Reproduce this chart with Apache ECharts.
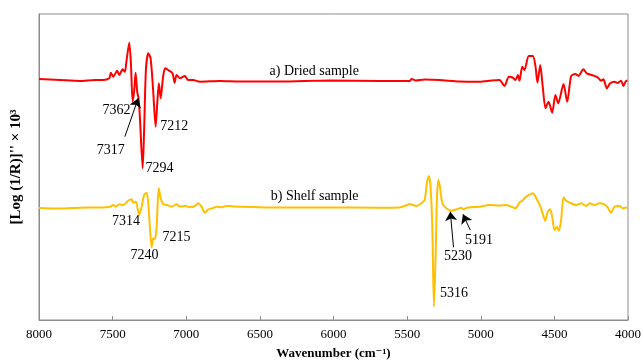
<!DOCTYPE html>
<html>
<head>
<meta charset="utf-8">
<script src="https://cdn.jsdelivr.net/npm/echarts@6/dist/echarts.min.js"></script>
<style>
  html, body { margin: 0; padding: 0; background: #fff; }
  #chart { width: 643px; height: 361px; }
</style>
</head>
<body>
<div id="chart"></div>
<script>
// wavenumber (cm-1) and second derivative values
const driedWn = [8000, 7858, 7722, 7620, 7566, 7523, 7512, 7496, 7469, 7455, 7432, 7417, 7405, 7387, 7376, 7364, 7353, 7344, 7333, 7324, 7315, 7296, 7286, 7274, 7258, 7242, 7225, 7208, 7197, 7186, 7174, 7157, 7143, 7116, 7093, 7079, 7066, 7043, 7010, 6987, 6953, 6908, 6772, 6636, 6365, 6026, 5687, 5483, 5469, 5442, 5381, 5279, 5144, 5008, 4927, 4873, 4839, 4809, 4784, 4764, 4748, 4737, 4718, 4703, 4674, 4646, 4628, 4615, 4596, 4579, 4560, 4540, 4515, 4493, 4474, 4438, 4413, 4386, 4357, 4337, 4303, 4280, 4240, 4206, 4183, 4167, 4144, 4121, 4092, 4072, 4047, 4031, 4013, 4004];
const driedVal = [1, 0, -1, 0, 0, 1.7, 7.3, 3.3, 9.3, 5, 10.7, 8.3, 20, 37.3, 17, -21.7, -10, 7.3, -11.7, -18.3, -36.7, -88.3, -50, 10, 26.7, 21.7, -10, -46.7, -23.3, -3.3, -18.3, 3.3, 11.7, 9.3, 6.7, -2.7, 5, 1.7, 4, 0, 0, -1.7, -1, -1.5, -1.5, -0.5, -1, -1, 1, -0.5, 0.5, 0, -1.5, -1.7, -0.5, 0, -6, 3.3, 2.5, 0, 5, -0.7, 13.3, 10, 24, 24, 13.3, -2.7, 15, -6.7, -28.3, -21.7, -32.7, -15, -23.3, -4, -21.7, 4, 6, 4, 10.7, 6.7, 4.7, 2.7, -0.7, 0.7, -8.3, -3.3, -1.7, -3, -0.7, -6, -0.7, -1];

const shelfWn = [8000, 7858, 7722, 7586, 7518, 7496, 7478, 7455, 7428, 7394, 7371, 7360, 7342, 7320, 7303, 7286, 7269, 7258, 7247, 7235, 7225, 7213, 7201, 7193, 7186, 7174, 7157, 7130, 7100, 7066, 7043, 7003, 6976, 6942, 6919, 6896, 6874, 6851, 6822, 6794, 6761, 6727, 6636, 6433, 6094, 5687, 5551, 5505, 5483, 5438, 5404, 5381, 5366, 5352, 5341, 5329, 5318, 5307, 5298, 5288, 5277, 5261, 5234, 5200, 5162, 5132, 5117, 5094, 5008, 4940, 4873, 4827, 4793, 4764, 4737, 4714, 4691, 4646, 4623, 4590, 4562, 4545, 4528, 4515, 4499, 4484, 4470, 4454, 4438, 4420, 4386, 4352, 4318, 4284, 4262, 4228, 4194, 4160, 4138, 4115, 4092, 4058, 4036, 4004];
const shelfVal = [0, -0.5, 0.3, 0.5, 1.3, 3, 1.3, 3.7, 3, 7.3, 8.7, 5.3, 6.3, -7, 1.3, 13, 15.3, 4.7, -18.7, -39.3, -30.3, -31.3, -18.7, 8, 19.7, 9.7, 4, 3, 1.3, 3.7, 1.3, 2, 0.7, 2, 4.7, 1.3, -4.7, -1.3, -0.3, 1.3, 0.7, 2, 1.3, 0.5, 0.5, 0.3, 0.5, 2.7, 4, 2, 4.7, 8, 24.7, 32, 21.3, -18.7, -98.7, -52, 8, 28, 21.3, 4.7, -0.3, -2.7, -1.3, 0.3, -1.3, 0.3, 1.3, 3, 2.5, 3, 1.3, -0.3, 5.3, 8, 11.3, 14.7, 9.7, -0.3, -12.7, -3.7, -1.3, -8.7, -22, -18.7, -22.7, -12, 10.7, 7.3, 4.7, 3, 4.7, 2, 4.7, 3, 4.7, 3.7, 0.7, -4.7, 1.3, 2, -0.3, 0.7];

const driedOffset = 240;
const shelfOffset = 112;

const xTicks = [8000, 7500, 7000, 6500, 6000, 5500, 5000, 4500, 4000];

// annotation texts, placed at [wavenumber, plot level]
const driedLabels = [
  ['a) Dried sample', 6131, 248.5],
  ['7362', 7474, 209.3],
  ['7317', 7512, 170],
  ['7294', 7182, 151.7],
  ['7212', 7081, 194]
];
const shelfLabels = [
  ['b) Shelf sample', 6128, 124],
  ['7314', 7410, 98.3],
  ['7240', 7284, 65],
  ['7215', 7067, 82.7],
  ['5316', 5181, 26.7],
  ['5230', 5154, 63.3],
  ['5191', 5012, 79.3]
];
// arrows: [fromWn, fromLevel, toWn, toLevel]
const driedArrows = [[7417, 183.3, 7326, 221.7]];
const shelfArrows = [[5185, 72.7, 5207, 108.3], [5071, 90, 5121, 105.7]];

const serif = '"Liberation Serif", "DejaVu Serif", serif';

function pairs(wn, val, off) {
  return wn.map((w, i) => [w, val[i] + off]);
}
function textMarks(list) {
  return {
    silent: true,
    animation: false,
    symbol: 'circle',
    symbolSize: 0,
    label: { show: true, position: 'inside', color: '#000', fontFamily: serif, fontSize: 14 },
    data: list.map(d => ({ coord: [d[1], d[2]], label: { formatter: d[0] } }))
  };
}
function arrowMarks(list) {
  return {
    silent: true,
    animation: false,
    symbol: ['none', 'arrow'],
    symbolSize: 9,
    label: { show: false },
    lineStyle: { color: '#000', width: 1, type: 'solid' },
    data: list.map(a => [{ coord: [a[0], a[1]] }, { coord: [a[2], a[3]] }])
  };
}

const chart = echarts.init(document.getElementById('chart'));
chart.setOption({
  animation: false,
  backgroundColor: '#fff',
  grid: {
    left: 39, right: 15, top: 14, bottom: 41,
    outerBoundsMode: 'none',
    show: true, borderColor: '#8c8c8c', borderWidth: 1
  },
  xAxis: {
    type: 'value',
    inverse: true,
    min: 4000,
    max: 8000,
    interval: 500,
    name: 'Wavenumber (cm\u207B\u00B9)',
    nameLocation: 'middle',
    nameGap: 27,
    nameTextStyle: { fontFamily: serif, fontSize: 13, fontWeight: 'bold', color: '#000' },
    axisLine: { lineStyle: { color: '#8c8c8c' } },
    axisTick: { inside: true, length: 4, lineStyle: { color: '#8c8c8c' } },
    axisLabel: {
      color: '#000', fontFamily: serif, fontSize: 13, margin: 8,
      formatter: v => (xTicks.indexOf(v) >= 0 ? String(v) : '')
    },
    splitLine: { show: false }
  },
  yAxis: {
    type: 'value',
    min: 0,
    max: 306,
    name: "[Log (1/R)]'' \u00D7 10\u00B3",
    nameLocation: 'middle',
    nameRotate: 90,
    nameGap: 15,
    nameTextStyle: { fontFamily: serif, fontSize: 15, fontWeight: 'bold', color: '#000' },
    axisLine: { show: true, lineStyle: { color: '#8c8c8c' } },
    axisTick: { show: false },
    axisLabel: { show: false },
    splitLine: { show: false }
  },
  series: [
    {
      name: 'Dried sample',
      type: 'line',
      data: pairs(driedWn, driedVal, driedOffset),
      showSymbol: false,
      smooth: 0.25,
      lineStyle: { color: '#ff0000', width: 2 },
      itemStyle: { color: '#ff0000' },
      markPoint: textMarks(driedLabels),
      markLine: arrowMarks(driedArrows)
    },
    {
      name: 'Shelf sample',
      type: 'line',
      data: pairs(shelfWn, shelfVal, shelfOffset),
      showSymbol: false,
      smooth: 0.25,
      lineStyle: { color: '#ffc000', width: 2 },
      itemStyle: { color: '#ffc000' },
      markPoint: textMarks(shelfLabels),
      markLine: arrowMarks(shelfArrows)
    }
  ]
});
</script>
</body>
</html>
